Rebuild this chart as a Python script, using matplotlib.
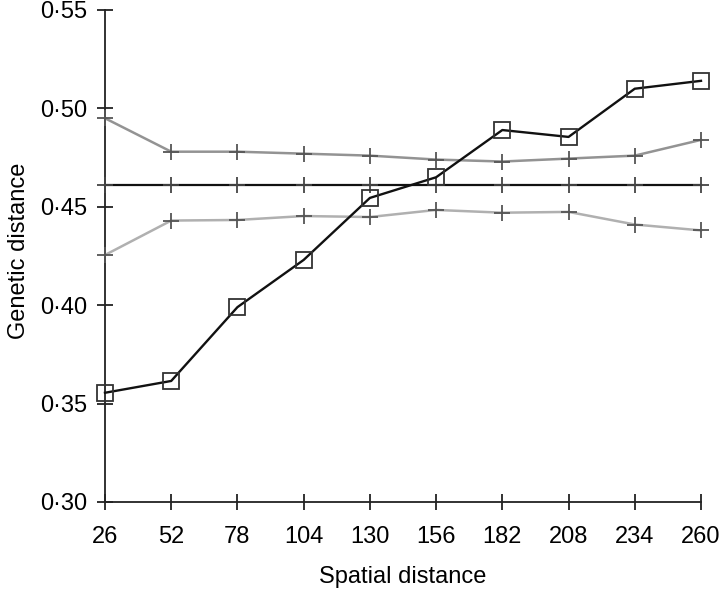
import numpy as np
import matplotlib.pyplot as plt
from matplotlib.ticker import FuncFormatter

plt.rcParams['font.family'] = ['Liberation Sans', 'DejaVu Sans']

# spatial distance classes
dist = [26, 52, 78, 104, 130, 156, 182, 208, 234, 260]
# observed genetic distance
observed = [0.3555, 0.3615, 0.399, 0.423, 0.4545, 0.465, 0.489, 0.4855, 0.510, 0.514]
# upper / lower envelope and mean of permutations
upper = [0.495, 0.478, 0.478, 0.477, 0.476, 0.474, 0.473, 0.4745, 0.476, 0.484]
lower = [0.4255, 0.443, 0.4433, 0.4453, 0.4448, 0.4484, 0.447, 0.4474, 0.441, 0.438]
mean = [0.461] * len(dist)

fig = plt.figure(figsize=(7.2, 5.91), dpi=100)
ax = fig.add_axes([0.1458, 0.1506, 0.8278, 0.8325])

ax.plot(dist, upper, color='#939393', lw=1.8, marker='+', ms=12, mew=1.3,
        mec='#555555', clip_on=False, zorder=3)
ax.plot(dist, lower, color='#b0b0b0', lw=1.8, marker='+', ms=12, mew=1.3,
        mec='#555555', clip_on=False, zorder=3)
ax.plot(dist, mean, color='#111111', lw=1.6, marker='+', ms=12, mew=1.3,
        mec='#444444', clip_on=False, zorder=3)
ax.plot(dist, observed, color='#111111', lw=1.7, marker='s', ms=12, mew=1.3,
        mfc='none', mec='#333333', clip_on=False, zorder=4)

ax.set_xlim(26, 260)
ax.set_ylim(0.30, 0.55)
ax.set_xticks(dist)
ax.set_yticks([0.30, 0.35, 0.40, 0.45, 0.50, 0.55])
ax.yaxis.set_major_formatter(FuncFormatter(lambda v, p: ('%.2f' % v).replace('.', '\u00b7')))

for s in ['top', 'right']:
    ax.spines[s].set_visible(False)
for s in ['left', 'bottom']:
    ax.spines[s].set_linewidth(1.3)
    ax.spines[s].set_color('#222222')

ax.tick_params(direction='inout', length=12, width=1.3, color='#222222',
               labelsize=17)
ax.tick_params(axis='x', pad=11)
ax.tick_params(axis='y', pad=7)

ax.set_xlabel('Spatial distance', fontsize=17, labelpad=13)
ax.set_ylabel('Genetic distance', fontsize=17, labelpad=9)
ax.yaxis.set_label_coords(-0.125, 0.51)

plt.savefig('out.png', dpi=100)
